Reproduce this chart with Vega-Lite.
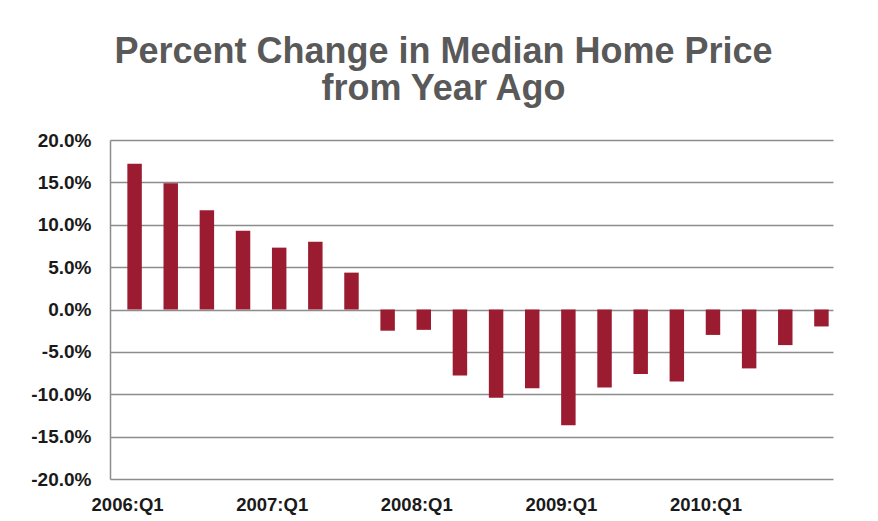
{
  "$schema": "https://vega.github.io/schema/vega-lite/v6.json",
  "width": 723,
  "height": 339,
  "autosize": "none",
  "padding": {"left": 110, "top": 140, "right": 45, "bottom": 42},
  "background": "white",
  "title": {
    "text": ["Percent Change in Median Home Price", "from Year Ago"],
    "font": "Liberation Sans",
    "fontSize": 36,
    "fontWeight": "bold",
    "color": "#595959",
    "anchor": "middle",
    "dx": -28,
    "offset": 23,
    "lineHeight": 37
  },
  "data": {
    "values": [
      {"q": "2006:Q1", "v": 17.2},
      {"q": "2006:Q2", "v": 14.9},
      {"q": "2006:Q3", "v": 11.7},
      {"q": "2006:Q4", "v": 9.3},
      {"q": "2007:Q1", "v": 7.3},
      {"q": "2007:Q2", "v": 8.0},
      {"q": "2007:Q3", "v": 4.35},
      {"q": "2007:Q4", "v": -2.5},
      {"q": "2008:Q1", "v": -2.4},
      {"q": "2008:Q2", "v": -7.8},
      {"q": "2008:Q3", "v": -10.4},
      {"q": "2008:Q4", "v": -9.3},
      {"q": "2009:Q1", "v": -13.65},
      {"q": "2009:Q2", "v": -9.2},
      {"q": "2009:Q3", "v": -7.6},
      {"q": "2009:Q4", "v": -8.5},
      {"q": "2010:Q1", "v": -3.0},
      {"q": "2010:Q2", "v": -6.95},
      {"q": "2010:Q3", "v": -4.2},
      {"q": "2010:Q4", "v": -2.0}
    ]
  },
  "mark": {"type": "bar", "color": "#9B1B30"},
  "encoding": {
    "x": {
      "field": "q",
      "type": "ordinal",
      "sort": null,
      "scale": {"paddingInner": 0.6, "paddingOuter": 0.3, "align": 0.8},
      "axis": {
        "title": null,
        "values": ["2006:Q1", "2007:Q1", "2008:Q1", "2009:Q1", "2010:Q1"],
        "labelAngle": 0,
        "labelFont": "Liberation Sans",
        "labelFontSize": 18.5,
        "labelFontWeight": "bold",
        "labelColor": "#1a1a1a",
        "labelOffset": -7,
        "labelPadding": 16,
        "domain": false,
        "ticks": false,
        "grid": false
      }
    },
    "y": {
      "field": "v",
      "type": "quantitative",
      "scale": {"domain": [-20, 20], "nice": false, "zero": true},
      "axis": {
        "title": null,
        "values": [-20, -15, -10, -5, 0, 5, 10, 15, 20],
        "labelExpr": "replace(format(datum.value, '.1f'), '\u2212', '-') + '%'",
        "labelFont": "Liberation Sans",
        "labelFontSize": 19,
        "labelFontWeight": "bold",
        "labelColor": "#1a1a1a",
        "labelPadding": 19,
        "ticks": false,
        "domain": true,
        "domainColor": "#8c8c8c",
        "domainWidth": 1.5,
        "grid": true,
        "gridColor": "#8c8c8c",
        "gridWidth": 1.5
      }
    }
  },
  "config": {"view": {"stroke": null}}
}
